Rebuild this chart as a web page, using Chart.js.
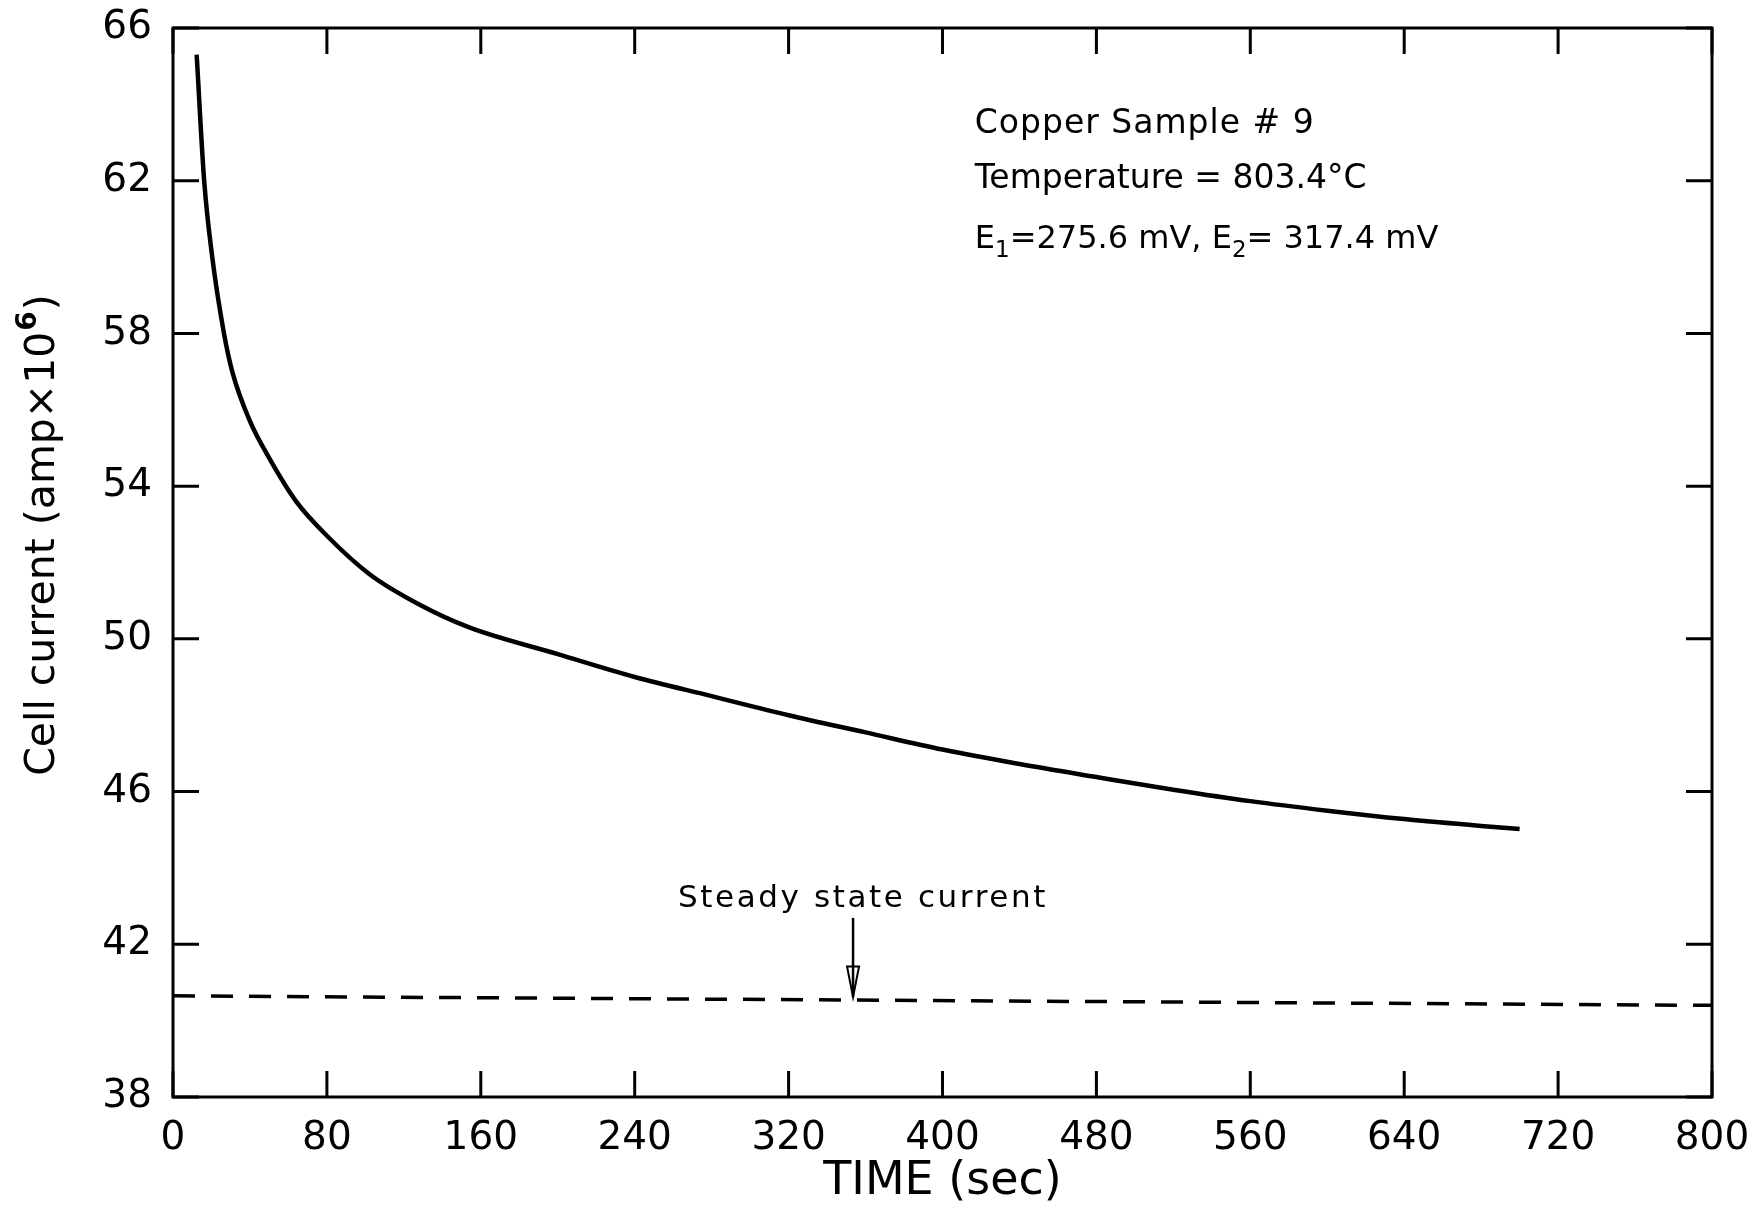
<!DOCTYPE html>
<html>
<head>
<meta charset="utf-8">
<script src="https://cdn.jsdelivr.net/npm/chart.js@4.4.1/dist/chart.umd.min.js"></script>
<style>
  html, body { margin: 0; padding: 0; background: #ffffff; }
  #c { display: block; }
</style>
</head>
<body>
<canvas id="c" width="1761" height="1230"></canvas>
<script>
// ---- Data ----
const timeSec = [12.3, 16.2, 20.4, 26.5, 30.8, 40, 50.4, 64, 80, 102, 128, 154, 200, 240, 280, 320, 360, 400, 440, 480, 520, 560, 600, 640, 680, 700];
const cellCurrent = [65.3, 62.0, 60.0, 58.0, 57.0, 55.7, 54.7, 53.6, 52.7, 51.7, 50.9, 50.3, 49.6, 49.0, 48.5, 48.0, 47.55, 47.1, 46.72, 46.38, 46.05, 45.75, 45.5, 45.28, 45.1, 45.02];
const steadyTime = [0, 800];
const steadyCurrent = [40.65, 40.4];
const xTickValues = [0, 80, 160, 240, 320, 400, 480, 560, 640, 720, 800];
const yTickValues = [38, 42, 46, 50, 54, 58, 62, 66];
const infoLines = ["Copper Sample # 9", "Temperature = 803.4°C"];
const steadyLabel = "Steady state current";
const yTitleMain = "Cell current (amp×10";
const yTitleSup = "6";
const yTitleEnd = ")";
const arrowTime = 353.5;

const FONT = "'DejaVu Sans', 'Liberation Sans', sans-serif";

const curvePts = timeSec.map((t, i) => ({ x: t, y: cellCurrent[i] }));
const steadyPts = steadyTime.map((t, i) => ({ x: t, y: steadyCurrent[i] }));

const decor = {
  id: 'decor',
  afterDatasetsDraw(chart) {
    const { ctx, chartArea: a, scales: { x, y } } = chart;
    ctx.save();
    ctx.strokeStyle = '#000';
    ctx.fillStyle = '#000';
    // frame
    ctx.lineWidth = 3;
    ctx.strokeRect(a.left, a.top, a.right - a.left, a.bottom - a.top);
    // inward tick marks on all four sides
    const tl = 26;
    ctx.beginPath();
    xTickValues.forEach(v => {
      const px = x.getPixelForValue(v);
      ctx.moveTo(px, a.bottom); ctx.lineTo(px, a.bottom - tl);
      ctx.moveTo(px, a.top); ctx.lineTo(px, a.top + tl);
    });
    yTickValues.forEach(v => {
      const py = y.getPixelForValue(v);
      ctx.moveTo(a.left, py); ctx.lineTo(a.left + tl, py);
      ctx.moveTo(a.right, py); ctx.lineTo(a.right - tl, py);
    });
    ctx.stroke();

    // info text block
    ctx.font = '33px ' + FONT;
    ctx.textBaseline = 'alphabetic';
    ctx.textAlign = 'left';
    const tx = x.getPixelForValue(416.8);
    ctx.letterSpacing = '1px';
    ctx.fillText(infoLines[0], tx, y.getPixelForValue(63.24));
    ctx.letterSpacing = '0px';
    ctx.fillText(infoLines[1], tx, y.getPixelForValue(61.82));
    // E line with subscripts
    let cx = tx;
    const by = y.getPixelForValue(60.25);
    const parts = [
      ['E', false], ['1', true], ['=275.6 mV, E', false], ['2', true], ['= 317.4 mV', false]
    ];
    parts.forEach(([s, sub]) => {
      if (sub) {
        ctx.font = '23px ' + FONT;
        ctx.fillText(s, cx, by + 9);
      } else {
        ctx.font = '32px ' + FONT;
        ctx.fillText(s, cx, by);
      }
      cx += ctx.measureText(s).width;
    });

    // steady state label and arrow
    ctx.font = '31px ' + FONT;
    ctx.letterSpacing = '2.6px';
    ctx.fillText(steadyLabel, x.getPixelForValue(262.5), y.getPixelForValue(42.97));
    ctx.letterSpacing = '0px';
    const ax = x.getPixelForValue(arrowTime);
    const ay0 = y.getPixelForValue(42.69);
    const ayTip = y.getPixelForValue(40.62);
    const ayBase = y.getPixelForValue(41.42);
    ctx.lineWidth = 2.5;
    ctx.beginPath();
    ctx.moveTo(ax, ay0); ctx.lineTo(ax, ayTip);
    ctx.stroke();
    ctx.lineWidth = 2;
    ctx.beginPath();
    ctx.moveTo(ax - 6, ayBase); ctx.lineTo(ax + 6, ayBase); ctx.lineTo(ax, ayTip); ctx.closePath();
    ctx.stroke();

    // y axis title (rotated), with superscript
    ctx.save();
    ctx.translate(43, 535);
    ctx.rotate(-Math.PI / 2);
    ctx.textBaseline = 'middle';
    ctx.font = '41px ' + FONT;
    const w1 = ctx.measureText(yTitleMain).width;
    const w3 = ctx.measureText(yTitleEnd).width;
    ctx.font = 'bold 28px ' + FONT;
    const w2 = ctx.measureText(yTitleSup).width;
    let sx = -(w1 + w2 + w3 + 2) / 2;
    ctx.font = '41px ' + FONT;
    ctx.fillText(yTitleMain, sx, 0);
    sx += w1 + 1;
    ctx.font = 'bold 28px ' + FONT;
    ctx.fillText(yTitleSup, sx, -14);
    sx += w2 + 1;
    ctx.font = '41px ' + FONT;
    ctx.fillText(yTitleEnd, sx, 0);
    ctx.restore();

    ctx.restore();
  }
};

new Chart(document.getElementById('c'), {
  type: 'line',
  data: {
    datasets: [
      {
        data: curvePts,
        borderColor: '#000',
        borderWidth: 4.5,
        pointRadius: 0,
        cubicInterpolationMode: 'monotone',
        fill: false
      },
      {
        data: steadyPts,
        borderColor: '#000',
        borderWidth: 3.5,
        borderDash: [22, 16],
        pointRadius: 0,
        fill: false
      }
    ]
  },
  options: {
    responsive: false,
    animation: false,
    layout: { padding: { top: 28, right: 49, bottom: 0, left: 0 } },
    plugins: { legend: { display: false }, tooltip: { enabled: false } },
    scales: {
      x: {
        type: 'linear',
        min: 0, max: 800,
        afterFit: s => { s.height = 133; s.paddingLeft = 0; s.paddingRight = 0; },
        afterBuildTicks: s => { s.ticks = xTickValues.map(v => ({ value: v })); },
        grid: { display: false, drawTicks: false },
        border: { display: false },
        ticks: { color: '#000', font: { family: FONT, size: 39 }, padding: 18, maxRotation: 0, autoSkip: false },
        title: { display: true, text: 'TIME (sec)', color: '#000', font: { family: FONT, size: 46 }, padding: { top: 0, bottom: 20 } }
      },
      y: {
        min: 38, max: 66,
        afterFit: s => { s.width = 173; s.paddingTop = 0; s.paddingBottom = 0; },
        afterBuildTicks: s => { s.ticks = yTickValues.map(v => ({ value: v })); },
        grid: { display: false, drawTicks: false },
        border: { display: false },
        ticks: { color: '#000', font: { family: FONT, size: 39 }, padding: 21, autoSkip: false },
        title: { display: false }
      }
    }
  },
  plugins: [decor]
});
</script>
</body>
</html>
